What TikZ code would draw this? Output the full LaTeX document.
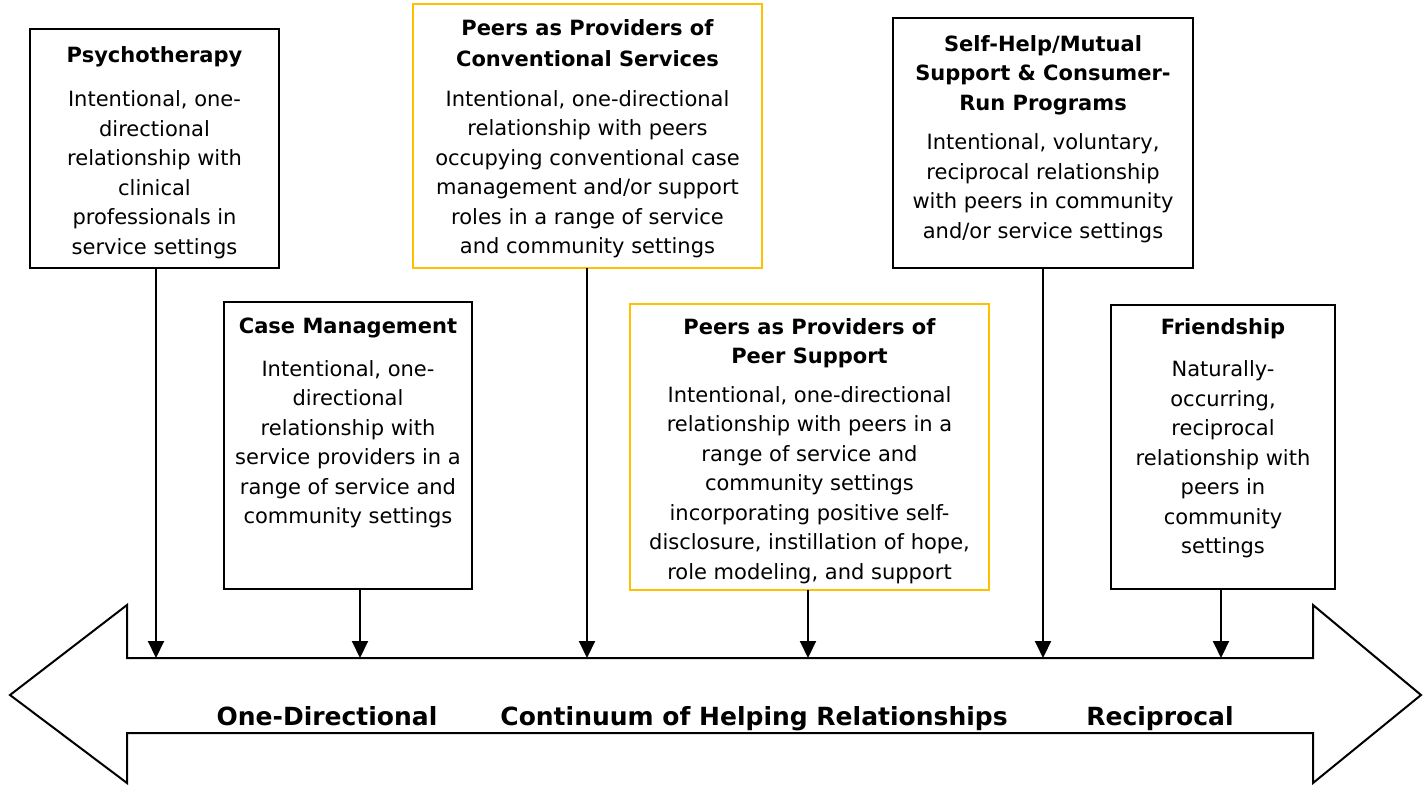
\documentclass[tikz,border=0pt]{standalone}
\usepackage{fontspec}
\setmainfont{DejaVu Sans}
\usetikzlibrary{arrows.meta,calc}
\definecolor{gold}{RGB}{255,192,0}
\begin{document}
\begin{tikzpicture}[x=1pt,y=-1pt,
  box/.style={draw=black,line width=2pt,fill=white,inner sep=0pt,outer sep=0pt,anchor=north west},
  goldbox/.style={box,draw=gold},
  txt/.style={anchor=north,align=center,inner sep=0pt,font=\fontsize{21}{29.5}\selectfont},
  conn/.style={line width=2pt,-{Triangle[width=16pt,length=17pt]}},
  lbl/.style={anchor=base,inner sep=0pt,font=\fontsize{25}{28}\selectfont\bfseries}]
\useasboundingbox (0,0) rectangle (1423,785);

% boxes
\node[box,minimum width=249pt,minimum height=239pt] (b1) at (30,29) {};
\node[box,minimum width=248pt,minimum height=287pt] (b2) at (224,302) {};
\node[goldbox,minimum width=349pt,minimum height=264pt] (b3) at (413,4) {};
\node[goldbox,minimum width=359pt,minimum height=286pt] (b4) at (630,304) {};
\node[box,minimum width=300pt,minimum height=250pt] (b5) at (893,18) {};
\node[box,minimum width=224pt,minimum height=284pt] (b6) at (1111,305) {};

% texts
\node[txt] (t1) at ($(b1.north)+(0,17)$) {\textbf{Psychotherapy}\\[15pt]
Intentional, one-\\directional\\relationship with\\clinical\\professionals in\\service settings};
\node[txt] (t2) at ($(b2.north)+(0,16)$) {\textbf{Case Management}\\[13pt]
Intentional, one-\\directional\\relationship with\\service providers in a\\range of service and\\community settings};
\node[txt] (t3) at ($(b3.north)+(0,15)$) {\textbf{Peers as Providers of}\\[2pt]\textbf{Conventional Services}\\[10pt]
Intentional, one-directional\\relationship with peers\\occupying conventional case\\management and/or support\\roles in a range of service\\and community settings};
\node[txt] (t4) at ($(b4.north)+(0,14)$) {\textbf{Peers as Providers of}\\\textbf{Peer Support}\\[9pt]
Intentional, one-directional\\relationship with peers in a\\range of service and\\community settings\\incorporating positive self-\\disclosure, instillation of hope,\\role modeling, and support};
\node[txt] (t5) at ($(b5.north)+(0,17)$) {\textbf{Self-Help/Mutual}\\\textbf{Support \& Consumer-}\\\textbf{Run Programs}\\[10pt]
Intentional, voluntary,\\reciprocal relationship\\with peers in community\\and/or service settings};
\node[txt] (t6) at ($(b6.north)+(0,13)$) {\textbf{Friendship}\\[13pt]
Naturally-\\occurring,\\reciprocal\\relationship with\\peers in\\community\\settings};

% big double arrow
\draw[line width=2pt,fill=white,line join=miter]
  (127,658) -- (1313,658) -- (1313,605) -- (1421,695) -- (1313,783) -- (1313,733)
  -- (127,733) -- (127,783) -- (10,695) -- (127,605) -- cycle;

% connector end points on the arrow
\coordinate (e1) at (156,658);
\coordinate (e2) at (360,658);
\coordinate (e3) at (587,658);
\coordinate (e4) at (808,658);
\coordinate (e5) at (1043,658);
\coordinate (e6) at (1221,658);

\draw[conn] (b1.south -| e1) -- (e1);
\draw[conn] (b2.south -| e2) -- (e2);
\draw[conn] (b3.south -| e3) -- (e3);
\draw[conn] (b4.south -| e4) -- (e4);
\draw[conn] (b5.south -| e5) -- (e5);
\draw[conn] (b6.south -| e6) -- (e6);

% labels
\node[lbl] (l1) at (327,725) {One-Directional};
\node[lbl] (l2) at (754,725) {Continuum of Helping Relationships};
\node[lbl] (l3) at (1160,725) {Reciprocal};
\end{tikzpicture}
\end{document}
